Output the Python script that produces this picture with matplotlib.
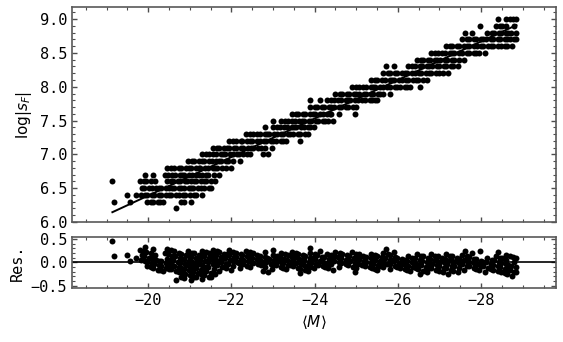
import numpy as np
import matplotlib
matplotlib.use("Agg")
import matplotlib.pyplot as plt
from matplotlib.ticker import MultipleLocator

# ---- data: quantised log|s_F| levels and the <M> values observed on each level ----
levels = [6.2, 6.3, 6.4, 6.5, 6.6, 6.7, 6.8, 6.9, 7.0, 7.1, 7.2, 7.3, 7.4, 7.5,
          7.6, 7.7, 7.8, 7.9, 8.0, 8.1, 8.2, 8.3, 8.4, 8.5, 8.6, 8.7, 8.8, 8.9, 9.0]

m_62 = [-20.68]
m_63 = [-19.18, -19.57, -19.98, -20.06, -20.12, -20.23, -20.29, -20.36, -20.79, -20.86,
        -21.02]
m_64 = [-19.50, -19.71, -19.82, -19.92, -19.97, -20.09, -20.14, -20.26, -20.30, -20.44,
        -20.50, -20.55, -20.68, -20.73, -20.84, -20.88, -21.00, -21.11, -21.15, -21.29]
m_65 = [-19.86, -19.91, -20.03, -20.09, -20.20, -20.26, -20.31, -20.42, -20.49, -20.57,
        -20.62, -20.74, -20.80, -20.85, -20.97, -21.04, -21.08, -21.19, -21.26, -21.33,
        -21.45, -21.50]
m_66 = [-19.14, -19.81, -19.90, -19.95, -20.06, -20.17, -20.46, -20.54, -20.59, -20.71,
        -20.77, -20.88, -20.93, -21.03, -21.10, -21.14, -21.27, -21.34, -21.40, -21.52,
        -21.60]
m_67 = [-19.92, -20.11, -20.41, -20.47, -20.58, -20.64, -20.76, -20.81, -20.87, -20.99,
        -21.05, -21.16, -21.22, -21.29, -21.40, -21.44, -21.57, -21.70]
m_68 = [-20.45, -20.55, -20.61, -20.73, -20.78, -20.90, -20.97, -21.02, -21.14, -21.21,
        -21.25, -21.37, -21.43, -21.55, -21.60, -21.66, -21.78, -21.86, -22.00]
m_69 = [-20.95, -21.06, -21.11, -21.23, -21.29, -21.35, -21.47, -21.53, -21.64, -21.69,
        -21.75, -21.88, -21.93, -22.05, -22.20]
m_70 = [-21.30, -21.39, -21.45, -21.56, -21.62, -21.74, -21.80, -21.85, -21.97, -22.03,
        -22.14, -22.19, -22.27, -22.38, -22.45, -22.77, -22.88]
m_71 = [-21.55, -21.66, -21.71, -21.83, -21.89, -21.94, -22.06, -22.12, -22.23, -22.28,
        -22.41, -22.47, -22.53, -22.64, -22.70, -22.80, -22.97]
m_72 = [-21.95, -22.04, -22.11, -22.22, -22.26, -22.38, -22.45, -22.50, -22.62, -22.68,
        -22.79, -22.84, -22.96, -23.01, -23.07, -23.19, -23.24, -23.30, -23.65]
m_73 = [-22.35, -22.45, -22.51, -22.62, -22.68, -22.80, -22.85, -22.91, -23.03, -23.09,
        -23.20, -23.25, -23.37, -23.42, -23.48, -23.60, -23.66, -23.78, -23.85]
m_74 = [-22.80, -23.00, -23.10, -23.16, -23.27, -23.33, -23.45, -23.50, -23.56, -23.68,
        -23.74, -23.85, -23.90, -23.98]
m_75 = [-23.00, -23.18, -23.29, -23.35, -23.46, -23.52, -23.63, -23.69, -23.74, -23.86,
        -23.92, -24.03, -24.08, -24.20, -24.26, -24.32, -24.45]
m_76 = [-23.45, -23.55, -23.61, -23.72, -23.78, -23.90, -23.95, -24.01, -24.13, -24.19,
        -24.30, -24.36, -24.40, -24.58, -24.98]
m_77 = [-23.90, -24.00, -24.06, -24.17, -24.23, -24.35, -24.40, -24.46, -24.58, -24.64,
        -24.75, -24.80, -24.92, -25.00]
m_78 = [-23.88, -24.12, -24.30, -24.40, -24.46, -24.57, -24.63, -24.75, -24.80, -24.86,
        -24.98, -25.04, -25.15, -25.20, -25.32, -25.38, -25.44, -25.50]
m_79 = [-24.50, -24.60, -24.66, -24.77, -24.83, -24.95, -25.00, -25.06, -25.18, -25.24,
        -25.35, -25.40, -25.52, -25.58, -25.64, -25.80]
m_80 = [-24.90, -25.00, -25.06, -25.17, -25.23, -25.35, -25.40, -25.46, -25.58, -25.64,
        -25.75, -25.80, -25.92, -25.98, -26.04, -26.16, -26.22, -26.30, -26.52]
m_81 = [-25.35, -25.45, -25.51, -25.62, -25.68, -25.80, -25.85, -25.91, -26.03, -26.09,
        -26.20, -26.25, -26.37, -26.43, -26.49, -26.61, -26.70]
m_82 = [-25.65, -25.76, -25.82, -25.93, -25.99, -26.11, -26.16, -26.22, -26.34, -26.40,
        -26.51, -26.56, -26.68, -26.74, -26.80, -26.92, -26.98, -27.09, -27.20]
m_83 = [-25.72, -25.91, -26.25, -26.35, -26.41, -26.52, -26.58, -26.70, -26.75, -26.81,
        -26.93, -26.99, -27.10, -27.15, -27.27, -27.33, -27.45]
m_84 = [-26.45, -26.55, -26.61, -26.72, -26.78, -26.90, -26.95, -27.01, -27.13, -27.19,
        -27.30, -27.35, -27.47, -27.60]
m_85 = [-26.80, -26.90, -26.96, -27.07, -27.13, -27.25, -27.30, -27.36, -27.48, -27.54,
        -27.65, -27.70, -27.82, -27.88, -27.94, -28.10]
m_86 = [-27.15, -27.25, -27.31, -27.42, -27.48, -27.60, -27.65, -27.71, -27.83, -27.89,
        -28.00, -28.05, -28.17, -28.23, -28.29, -28.41, -28.47, -28.58, -28.63, -28.75]
m_87 = [-27.55, -27.65, -27.71, -27.82, -27.88, -28.00, -28.05, -28.11, -28.23, -28.29,
        -28.40, -28.45, -28.57, -28.63, -28.69, -28.80, -28.85]
m_88 = [-27.62, -27.79, -28.15, -28.25, -28.31, -28.42, -28.48, -28.60, -28.65, -28.71,
        -28.83]
m_89 = [-27.98, -28.35, -28.45, -28.51, -28.60, -28.80]
m_90 = [-28.41, -28.60, -28.70, -28.76, -28.85]

m_lists = [m_62, m_63, m_64, m_65, m_66, m_67, m_68, m_69, m_70, m_71, m_72, m_73, m_74,
           m_75, m_76, m_77, m_78, m_79, m_80, m_81, m_82, m_83, m_84, m_85, m_86, m_87,
           m_88, m_89, m_90]

# linear fit log|s_F| = fit_a * <M> + fit_b
fit_a = -0.285
fit_b = 0.69

M = np.concatenate([np.array(v) for v in m_lists])
S = np.concatenate([np.full(len(v), lv) for v, lv in zip(m_lists, levels)])
res = S - (fit_a * M + fit_b)
m_line = np.array([M.max(), M.min()])
s_line = fit_a * m_line + fit_b

# ---- figure ----
plt.rcParams['font.family'] = ['DejaVu Sans Mono']
plt.rcParams['mathtext.fontset'] = 'dejavusans'
fs = 11

fig = plt.figure(figsize=(5.63, 3.42), dpi=100)
ax1 = fig.add_axes([0.1279, 0.3509, 0.8597, 0.6287])
ax2 = fig.add_axes([0.1279, 0.1579, 0.8597, 0.1491], sharex=ax1)

ax1.plot(m_line, s_line, color='black', lw=1.4, zorder=2)
ax1.plot(M, S, 'o', color='black', ms=4.3, mew=0, zorder=3)
ax2.axhline(0, color='black', lw=1.2, zorder=2)
ax2.plot(M, res, 'o', color='black', ms=4.3, mew=0, zorder=3)

ax1.set_xlim(-18.17, -29.80)
ax1.set_ylim(6.0, 9.18)
ax2.set_ylim(-0.545, 0.54)

for ax in (ax1, ax2):
    ax.xaxis.set_major_locator(MultipleLocator(2))
    ax.xaxis.set_minor_locator(MultipleLocator(0.5))
    ax.yaxis.set_major_locator(MultipleLocator(0.5))
    ax.yaxis.set_minor_locator(MultipleLocator(0.1))
    ax.tick_params(which='both', direction='in', top=True, right=True,
                   labelsize=fs, color='0.3')
    ax.tick_params(which='major', length=3.5, width=1.0)
    ax.tick_params(which='minor', length=2.0, width=0.8)
    for sp in ax.spines.values():
        sp.set_color('0.35')
        sp.set_linewidth(1.2)

ax1.tick_params(labelbottom=False)
ax1.set_ylabel(r'$\log|s_F|$', fontsize=fs)
ax2.set_ylabel('Res.', fontsize=fs)
ax2.set_xlabel(r'$\langle M\rangle$', fontsize=fs)

fig.savefig('out.png', dpi=100)
